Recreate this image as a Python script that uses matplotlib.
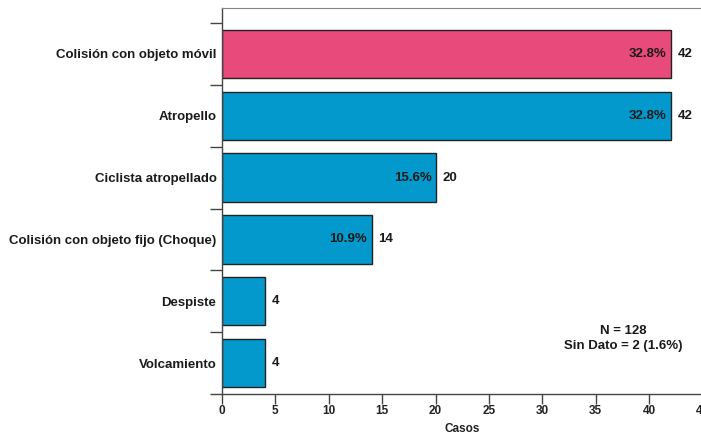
import matplotlib
matplotlib.use("Agg")
import matplotlib.pyplot as plt

categories = [
    "Volcamiento",
    "Despiste",
    "Colisión con objeto fijo (Choque)",
    "Ciclista atropellado",
    "Atropello",
    "Colisión con objeto móvil",
]
cases = [4, 4, 14, 20, 42, 42]
percents = ["3.1%", "3.1%", "10.9%", "15.6%", "32.8%", "32.8%"]
show_pct = [False, False, True, True, True, True]
colors = ["#0499CC", "#0499CC", "#0499CC", "#0499CC", "#0499CC", "#E84A7B"]
x_ticks = [0, 5, 10, 15, 20, 25, 30, 35, 40, 45]
note = "N = 128\nSin Dato = 2 (1.6%)"

plt.rcParams["font.family"] = ["Liberation Sans", "DejaVu Sans"]
plt.rcParams["font.weight"] = "bold"

fig = plt.figure(figsize=(7.01, 4.34), dpi=100)
ax = fig.add_axes([222 / 701, 1 - 394 / 434, 480.6 / 701, 386 / 434])

ypos = list(range(len(categories)))
ax.barh(ypos, cases, height=0.78, color=colors, edgecolor="#222222", linewidth=1.0, zorder=2)

for y, v, p, s in zip(ypos, cases, percents, show_pct):
    if s:
        ax.annotate(p, (v, y), xytext=(-3, 0), textcoords="offset points",
                    ha="right", va="center", fontsize=9.5, fontweight="bold", color="#1a1a1a")
    ax.annotate(str(v), (v, y), xytext=(5, 0), textcoords="offset points",
                ha="left", va="center", fontsize=9.5, fontweight="bold", color="#1a1a1a")

ax.set_xlim(0, 45)
ax.set_ylim(-0.5, 5.743)
ax.set_xticks(x_ticks)
ax.set_xticklabels([str(t) for t in x_ticks], fontsize=8.5, fontweight="bold", color="#222222")
ax.tick_params(axis="x", direction="out", length=7, width=1, color="#444444", pad=1)

ax.set_yticks(ypos)
ax.set_yticklabels(categories, fontsize=9.5, fontweight="bold", color="#1a1a1a")
ax.tick_params(axis="y", which="major", length=0, pad=4)
ax.set_yticks([i - 0.5 for i in range(len(categories) + 1)], minor=True)
ax.tick_params(axis="y", which="minor", direction="out", length=9, width=1, color="#444444")

ax.spines["right"].set_visible(False)
ax.spines["left"].set_color("#444444")
ax.spines["bottom"].set_color("#444444")
ax.spines["top"].set_color("#888888")
ax.spines["left"].set_linewidth(1)
ax.spines["bottom"].set_linewidth(1)

ax.text(37.6, 0.40, note, ha="center", va="center", fontsize=9.5,
        fontweight="bold", color="#1a1a1a", linespacing=1.4)

ax.set_xlabel("Casos", fontsize=8.5, fontweight="bold", color="#222222", labelpad=4)

fig.savefig("out.png", dpi=100)
